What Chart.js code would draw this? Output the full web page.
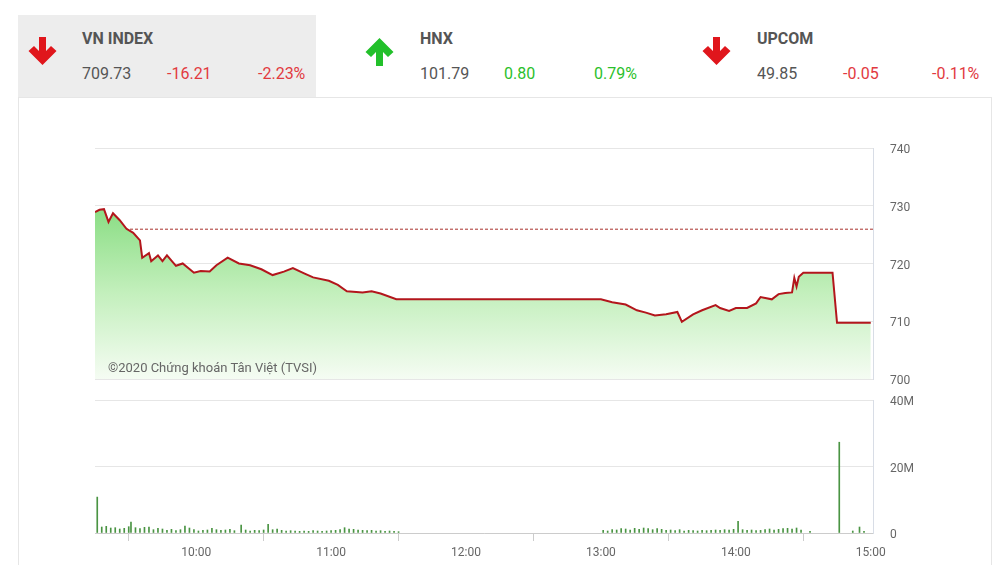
<!DOCTYPE html>
<html>
<head>
<meta charset="utf-8">
<script src="https://cdn.jsdelivr.net/npm/chart.js@4.4.1/dist/chart.umd.min.js"></script>
<style>
  body { margin:0; width:1004px; height:565px; overflow:hidden; background:#fff; font-family:Roboto, "Noto Sans", sans-serif; position:relative; }
  .sel { position:absolute; left:18px; top:15px; width:298px; height:82px; background:#ededed; }
  .panel { position:absolute; left:18px; top:97px; width:974px; height:480px; border:1px solid #e6e6e6; box-sizing:border-box; }
  .name { position:absolute; top:29px; font-weight:bold; font-size:16px; color:#555; white-space:nowrap; }
  .val { position:absolute; top:64px; font-size:16px; color:#555; white-space:nowrap; }
  .down { color:#e23a3f; }
  .up { color:#2bbf2b; }
  svg.arrow { position:absolute; top:35px; }
  canvas { position:absolute; left:0; }
  .mark { position:absolute; left:108px; top:360px; font-size:13px; color:#666; }
</style>
</head>
<body>
<div class="sel"></div>
<div class="panel"></div>

<svg class="arrow" style="left:26px" width="33" height="32" viewBox="0 0 32 32"><path d="M16 30 L2 16 L7.5 11 L12.5 16 L12.5 2 L19.5 2 L19.5 16 L24.5 11 L30 16 Z" fill="#e0161c"/></svg>
<div class="name" style="left:82px">VN INDEX</div>
<div class="val" style="left:82px">709.73</div>
<div class="val down" style="left:167px">-16.21</div>
<div class="val down" style="left:258px">-2.23%</div>

<svg class="arrow" style="left:363px;top:36px" width="33" height="32" viewBox="0 0 32 32"><path d="M16 2 L30 16 L24.5 21 L19.5 16 L19.5 30 L12.5 30 L12.5 16 L7.5 21 L2 16 Z" fill="#22c02a"/></svg>
<div class="name" style="left:420px">HNX</div>
<div class="val" style="left:420px">101.79</div>
<div class="val up" style="left:504px">0.80</div>
<div class="val up" style="left:594px">0.79%</div>

<svg class="arrow" style="left:700px" width="33" height="32" viewBox="0 0 32 32"><path d="M16 30 L2 16 L7.5 11 L12.5 16 L12.5 2 L19.5 2 L19.5 16 L24.5 11 L30 16 Z" fill="#e0161c"/></svg>
<div class="name" style="left:757px">UPCOM</div>
<div class="val" style="left:757px">49.85</div>
<div class="val down" style="left:843px">-0.05</div>
<div class="val down" style="left:932px">-0.11%</div>

<canvas id="priceChart" width="1004" height="260" style="top:130px"></canvas>
<canvas id="volChart" width="1004" height="175" style="top:390px"></canvas>
<div class="mark">©2020 Chứng khoán Tân Việt (TVSI)</div>

<script>
// VN-Index intraday
const priceTimes = ['09:15','09:17','09:19','09:21','09:23','09:26','09:29','09:32','09:35','09:36','09:39','09:40','09:43','09:45','09:47','09:51','09:54','09:59','10:02','10:06','10:09','10:14','10:19','10:24','10:29','10:34','10:39','10:43','10:48','10:52','10:59','11:03','11:07','11:14','11:18','11:22','11:29','11:30','13:00','13:05','13:11','13:16','13:20','13:24','13:29','13:34','13:36','13:41','13:45','13:51','13:53','13:57','14:00','14:05','14:09','14:11','14:16','14:19','14:22','14:25','14:26','14:27','14:28','14:30','14:43','14:45','15:00'];
const priceValues = [728.9,729.3,729.4,727.2,728.7,727.5,726.0,725.3,724.0,721.0,721.8,720.4,721.4,720.4,721.4,719.6,720.0,718.4,718.7,718.6,719.7,721.0,720.0,719.7,719.0,718.0,718.6,719.2,718.3,717.6,717.0,716.3,715.2,715.0,715.2,714.8,713.8,713.8,713.8,713.3,712.9,711.9,711.5,711.0,711.2,711.6,709.9,711.2,711.9,712.8,712.3,711.8,712.3,712.3,713.1,714.2,713.8,714.7,714.9,715.0,717.5,716.0,717.7,718.4,718.4,709.73,709.73];
const refValue = 725.94;

// volume (millions)
const volTimes = ['09:16','09:18','09:20','09:22','09:24','09:26','09:28','09:30','09:31','09:33','09:35','09:37','09:39','09:41','09:43','09:45','09:47','09:49','09:51','09:53','09:55','09:57','09:59','10:01','10:03','10:05','10:07','10:09','10:11','10:13','10:15','10:17','10:20','10:22','10:24','10:26','10:28','10:30','10:32','10:34','10:36','10:38','10:40','10:42','10:44','10:46','10:48','10:50','10:52','10:54','10:56','10:58','11:00','11:02','11:04','11:06','11:08','11:10','11:12','11:14','11:16','11:18','11:20','11:22','11:24','11:26','11:28','11:30',
  '13:01','13:03','13:05','13:07','13:09','13:11','13:13','13:15','13:17','13:19','13:21','13:23','13:25','13:27','13:29','13:31','13:33','13:35','13:37','13:39','13:41','13:43','13:45','13:47','13:49','13:51','13:53','13:55','13:57','13:59','14:01','14:03','14:05','14:07','14:09','14:11','14:13','14:15','14:17','14:19','14:21','14:23','14:25','14:27','14:29','14:33','14:46','14:52','14:55','14:57'];
const volValues = [10.8,1.8,2.0,1.5,1.6,1.2,1.4,1.9,3.3,1.6,1.3,1.7,1.8,1.0,1.4,1.2,0.8,1.1,0.7,1.0,2.1,1.5,1.0,0.6,0.8,0.9,1.4,1.0,0.8,0.9,1.1,0.7,2.4,0.9,0.6,0.8,0.7,0.9,2.6,1.0,1.2,0.8,0.6,0.7,0.6,0.5,0.6,0.5,0.7,0.6,0.5,0.6,0.7,0.8,1.0,1.6,1.2,1.1,0.9,0.8,0.7,0.8,0.6,0.7,0.5,0.6,0.5,0.4,
  0.8,0.6,1.0,0.9,1.3,1.2,0.9,1.4,1.1,1.5,1.3,1.0,1.3,1.1,0.8,0.9,0.7,1.0,0.6,0.8,0.7,0.6,0.8,0.7,0.8,0.9,0.8,1.0,0.9,1.1,3.5,1.0,0.8,0.9,0.7,0.8,1.0,1.2,0.9,1.1,1.3,1.4,1.2,1.5,0.9,0.5,27.3,0.6,1.8,0.5];

const hourTicks = ['10:00','11:00','12:00','13:00','14:00','15:00'];
const startTime = '09:15', endTime = '15:01';

function toMin(t) { const p = t.split(':'); return +p[0] * 60 + +p[1]; }
const xMin = toMin(startTime), xMax = toMin(endTime);

const gridColor = '#e6e6e6';
const tickFont = { family: 'Roboto', size: 12 };

new Chart(document.getElementById('priceChart'), {
  type: 'line',
  data: {
    datasets: [{
      data: priceTimes.map((t, i) => ({ x: toMin(t), y: priceValues[i] })),
      borderColor: '#b3161c',
      borderWidth: 2,
      pointRadius: 0,
      tension: 0,
      fill: 'start',
      backgroundColor: function(ctx) {
        const a = ctx.chart.chartArea;
        if (!a) return '#bfeeb8';
        const g = ctx.chart.ctx.createLinearGradient(0, a.top + 55, 0, a.bottom);
        g.addColorStop(0, '#86dc80');
        g.addColorStop(0.5, '#c2efbb');
        g.addColorStop(1, '#f5fcf3');
        return g;
      }
    }, {
      data: [{ x: xMin, y: refValue }, { x: xMax, y: refValue }],
      borderColor: '#a8302c',
      borderWidth: 1,
      borderDash: [3, 2],
      pointRadius: 0,
      fill: false
    }]
  },
  options: {
    animation: false,
    responsive: false,
    layout: { padding: { left: 95, top: 18, bottom: 11, right: 0 } },
    plugins: { legend: { display: false }, tooltip: { enabled: false } },
    scales: {
      x: { type: 'linear', min: xMin, max: xMax, display: false },
      y: {
        position: 'right', min: 700, max: 740,
        afterFit: s => { s.width = 131; },
        grid: { color: gridColor, tickLength: 17, tickColor: 'rgba(0,0,0,0)' },
        border: { display: true, color: '#d8dde6' },
        ticks: { stepSize: 10, padding: 0, labelOffset: 2, color: '#666', font: tickFont }
      }
    }
  }
});

new Chart(document.getElementById('volChart'), {
  type: 'bar',
  data: {
    datasets: [{
      data: volTimes.map((t, i) => ({ x: toMin(t), y: volValues[i] })),
      backgroundColor: '#4a9443',
      barThickness: 1
    }]
  },
  options: {
    animation: false,
    responsive: false,
    layout: { padding: { left: 95, top: 10, bottom: 0, right: 0 } },
    plugins: { legend: { display: false }, tooltip: { enabled: false } },
    scales: {
      x: {
        type: 'linear', min: xMin, max: xMax, offset: false,
        afterFit: s => { s.height = 32; },
        afterBuildTicks: s => { s.ticks = hourTicks.map(t => ({ value: toMin(t) })); },
        grid: { drawOnChartArea: false, tickLength: 8, color: '#ccc' },
        border: { display: true, color: '#ccc' },
        ticks: { padding: 5, color: '#666', font: tickFont, maxRotation: 0,
          callback: v => hourTicks.find(t => toMin(t) === v) || '' }
      },
      y: {
        position: 'right', min: 0, max: 40,
        afterFit: s => { s.width = 131; },
        grid: { color: gridColor, tickLength: 17, tickColor: 'rgba(0,0,0,0)' },
        border: { display: true, color: '#d8dde6' },
        ticks: { stepSize: 20, padding: 0, labelOffset: 2, color: '#666', font: tickFont,
          callback: v => v === 0 ? '0' : v + 'M' }
      }
    }
  }
});
</script>
</body>
</html>
